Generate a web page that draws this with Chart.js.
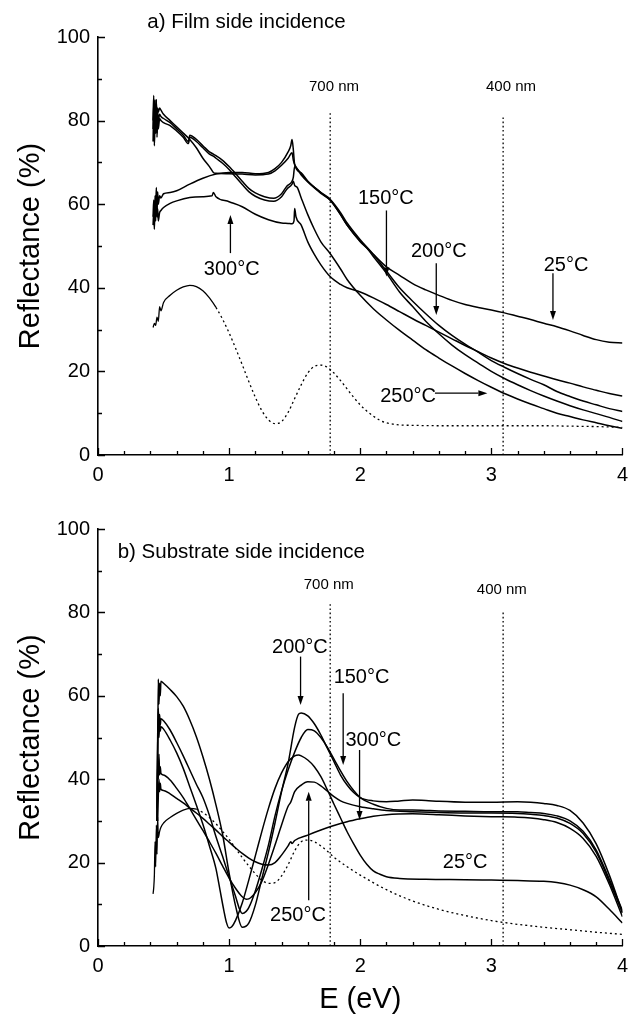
<!DOCTYPE html>
<html><head><meta charset="utf-8">
<script src="https://cdn.jsdelivr.net/npm/chart.js@4.4.1/dist/chart.umd.min.js"></script>
<style>
html,body{margin:0;padding:0;background:#fff;}
#wrap{position:relative;width:636px;height:1020px;overflow:hidden;background:#fff;}
canvas{position:absolute;left:0;}
#ca{top:0;} #cb{top:490px;}
</style></head><body>
<div id="wrap">
<canvas id="ca" width="636" height="490" style="width:636px;height:490px"></canvas>
<canvas id="cb" width="636" height="530" style="width:636px;height:530px"></canvas>
</div>
<script>
// ---------- tick labels ----------
const xTicks = [0, 1, 2, 3, 4];
const yTicks = [0, 20, 40, 60, 80, 100];

// ---------- wavelength markers (E in eV) ----------
const nmLabels = ['700 nm', '400 nm'];
const nmX = [1.771, 3.09];
const nmTopA = [82, 81];
const nmTopB = [82.5, 80.5];

// ---------- panel a) Film side incidence ----------
const a25X = [0.42,0.425,0.43,0.435,0.44,0.445,0.45,0.455,0.46,0.47,0.48,0.5,0.55,0.6,0.7,0.8,0.9,1.0,1.1,1.2,1.3,1.35,1.4,1.45,1.47,1.48,1.49,1.5,1.55,1.6,1.7,1.77,1.85,1.9,2.0,2.1,2.2,2.3,2.4,2.5,2.6,2.7,2.8,2.9,3.0,3.1,3.2,3.3,3.4,3.5,3.6,3.7,3.8,3.9,4.0];
const a25Y = [57,61,56,62,59,64,58,63,60,62,61.5,62.5,62.8,63.2,64.8,66.2,67.2,67.6,67.6,67.3,67.6,68.5,70,72.5,74,75.5,73,69.5,67.5,65.5,62.8,61,57.5,55,51.2,48,45,43,41,39.5,38.2,37,36,35.3,34.7,34,33.2,32.4,31.5,30.7,29.7,28.6,27.6,27,26.8];

const a150X = [0.42,0.425,0.43,0.435,0.44,0.445,0.45,0.455,0.46,0.47,0.48,0.5,0.55,0.6,0.65,0.69,0.7,0.75,0.8,0.85,0.88,0.9,0.95,1.0,1.05,1.1,1.15,1.2,1.27,1.34,1.4,1.44,1.48,1.49,1.5,1.55,1.6,1.7,1.77,1.85,1.9,2.0,2.05,2.1,2.2,2.3,2.4,2.5,2.6,2.7,2.8,2.9,3.0,3.1,3.2,3.3,3.4,3.5,3.6,3.7,3.8,3.9,4.0];
const a150Y = [78,84,76,83,79,85,77,82,80,81.5,81,80.5,79.5,78,76.5,75,76.5,75.5,74,72.5,72,71.6,70.5,69,67.3,65.5,63.8,62.7,61.8,61.4,62.5,64.3,65.5,66.5,69,67,65.3,62.6,61,57.5,55,51,49.5,47.5,43.5,39,35.5,32,29,26.3,24,22,20,18.3,16.8,15.4,14.1,12.9,11.8,10.8,9.9,9,8];

const a200X = [0.42,0.425,0.43,0.435,0.44,0.445,0.45,0.455,0.46,0.47,0.48,0.5,0.55,0.6,0.65,0.7,0.75,0.8,0.85,0.88,0.9,1.0,1.1,1.2,1.3,1.35,1.4,1.45,1.48,1.49,1.5,1.55,1.6,1.7,1.77,1.85,1.9,2.0,2.1,2.2,2.3,2.4,2.5,2.6,2.7,2.8,2.9,3.0,3.1,3.2,3.3,3.4,3.5,3.6,3.7,3.8,3.9,4.0];
const a200Y = [80,86,78,85,81,84,79,83,82,83,82.5,81.5,80,78.5,77,75.5,73.5,71,69,67.6,67.4,67.3,67.2,67,67.2,68,69.3,71,72.3,70.5,69.5,67.3,65.5,62.8,61.2,58,55.5,51.5,48,44,40,36.8,33.8,31,28.6,26.5,24.6,22.6,21,19.5,18.1,16.8,15.2,14,12.9,12,11.1,10.4];

const a250X = [0.42,0.425,0.43,0.435,0.44,0.445,0.45,0.455,0.46,0.47,0.48,0.5,0.55,0.6,0.65,0.69,0.7,0.75,0.8,0.85,0.88,0.9,0.95,1.0,1.05,1.1,1.15,1.2,1.27,1.34,1.4,1.44,1.48,1.49,1.5,1.52,1.55,1.6,1.65,1.7,1.77,1.85,1.9,2.0,2.1,2.2,2.3,2.4,2.5,2.6,2.7,2.8,2.9,3.0,3.1,3.2,3.3,3.4,3.5,3.6,3.7,3.8,3.9,4.0];
const a250Y = [75,82,74,80,77,85,76,81,78,80.5,80,79.5,78.8,77.5,76,74.5,76,75,73.5,72,71.5,71,69.8,68.3,66.5,64.7,63,61.9,61,60.7,61.8,63.6,64.8,65.5,64.5,64,61.5,57.5,54,51,48.2,44.5,42,38.2,35,32.3,29.8,27.5,25.2,23.2,21.3,19.5,17.8,16.2,14.7,13.4,12.2,11.1,10,9.2,8.4,7.7,7,6.4];

const a300X = [0.42,0.425,0.43,0.435,0.44,0.445,0.45,0.455,0.46,0.47,0.48,0.5,0.55,0.6,0.7,0.8,0.87,0.88,0.9,1.0,1.1,1.2,1.3,1.4,1.45,1.48,1.495,1.5,1.51,1.55,1.6,1.65,1.7,1.77,1.85,1.9,2.0,2.1,2.2,2.3,2.4,2.5,2.6,2.7,2.8,2.9,3.0,3.1,3.2,3.3,3.4,3.5,3.6,3.7,3.8,3.9,4.0];
const a300Y = [55,58,54,60,56,62,57,59,56,58,58.5,59.2,60.2,60.8,61.6,61.8,62,62.8,61.8,60.6,59.4,57.6,56.3,55.5,55.4,55.3,56,59,57,55,51,48,45.5,42.7,40.8,40,39,37.6,36,34.3,32.6,31,29.4,27.8,26.2,24.7,23.2,21.9,20.8,19.8,18.9,18,17.2,16.3,15.5,14.7,14.1];

const aRefX = [0.42,0.43,0.44,0.45,0.46,0.47,0.48,0.5,0.55,0.6,0.65,0.7,0.75,0.8,0.85,0.9,0.95,1.0,1.05,1.1,1.15,1.2,1.25,1.3,1.35,1.4,1.45,1.5,1.55,1.6,1.65,1.7,1.75,1.8,1.85,1.9,1.95,2.0,2.05,2.1,2.15,2.2,2.3,2.4,2.6,2.8,3.0,3.2,3.4,3.6,3.8,4.0];
const aRefY = [30.5,31.5,31,33,32,35.5,34.5,36.5,38.2,39.4,40.2,40.6,40.3,39.3,37.6,35.3,32.5,29.2,25.5,21.6,17.6,13.8,10.6,8.4,7.5,8,10.2,13.5,16.8,19.6,21.2,21.5,21,19.6,17.8,15.8,13.8,12,10.5,9.3,8.3,7.7,7.2,7.1,7,7,7,7,7,6.9,6.8,6.6];

// ---------- panel b) Substrate side incidence ----------
const b25X = [0.45,0.455,0.46,0.465,0.47,0.475,0.48,0.5,0.55,0.6,0.65,0.7,0.75,0.8,0.85,0.9,0.93,0.96,0.98,1.0,1.02,1.05,1.1,1.15,1.2,1.25,1.3,1.35,1.4,1.45,1.5,1.53,1.55,1.6,1.65,1.7,1.75,1.8,1.85,1.9,1.95,2.0,2.05,2.1,2.15,2.2,2.3,2.5,2.8,3.0,3.2,3.4,3.5,3.6,3.7,3.8,3.9,4.0];
const b25Y = [30,48,54.5,50,53.5,51.5,52.6,52,49.4,46.3,42.6,38.2,33.8,29.2,24,18.5,13.5,8.5,5.6,4.3,4.6,6.2,10.3,15.8,21.6,27.5,33,37.8,41.5,44.2,45.6,45.8,45.6,44.6,43,40.6,37.4,34,30.7,27.4,24.5,21.8,19.6,18,17.2,16.6,16.2,16,15.9,15.8,15.7,15.5,15.2,14.6,13.5,11.8,8.8,5.5];

const b150X = [0.45,0.455,0.46,0.465,0.47,0.475,0.48,0.5,0.55,0.6,0.65,0.7,0.75,0.8,0.85,0.9,0.95,1.0,1.05,1.08,1.1,1.13,1.15,1.2,1.25,1.3,1.35,1.4,1.45,1.5,1.55,1.6,1.65,1.7,1.75,1.8,1.85,1.9,1.95,2.0,2.1,2.2,2.3,2.4,2.5,2.6,2.8,3.0,3.2,3.3,3.4,3.5,3.6,3.7,3.8,3.9,4.0];
const b150Y = [33,50,57,52,55.5,53,54.5,54,51.8,48.8,45.6,42.2,38.8,35.6,31.3,26.2,21.5,16.6,11.8,8.8,7.8,8.3,9.2,13.2,18.4,24.2,31.2,37.2,42.2,46.5,50,51.9,51.6,50,47.6,44.8,42,39.4,37.3,35.6,34,33,32.6,32.6,32.5,32.4,32.3,32.2,32.2,32,31.8,31.2,30,27.5,23,16,8.5];

const b200X = [0.45,0.455,0.46,0.465,0.47,0.475,0.48,0.5,0.55,0.6,0.65,0.7,0.75,0.8,0.85,0.9,0.95,1.0,1.05,1.1,1.15,1.2,1.25,1.3,1.35,1.4,1.45,1.5,1.53,1.55,1.6,1.65,1.7,1.75,1.8,1.85,1.9,1.95,2.0,2.1,2.2,2.3,2.4,2.5,2.6,2.8,3.0,3.2,3.3,3.4,3.5,3.6,3.7,3.8,3.9,4.0];
const b200Y = [30,45,64,58,63,60,63.5,63,61.5,59.8,57.5,54.2,50.2,45.4,40,33.8,26.8,17.5,9.5,4.5,5.5,9.8,16.2,22.5,29.5,37,43.8,52.5,55.6,55.9,55.2,53.3,50.6,47.4,44.2,41,38.6,36.8,35.6,34.8,34.6,34.8,35,34.9,34.7,34.5,34.5,34.6,34.5,34.2,33.7,32.5,29.5,24.5,17,8];

const b250X = [0.45,0.455,0.46,0.465,0.47,0.475,0.48,0.5,0.55,0.6,0.65,0.7,0.75,0.8,0.85,0.9,0.95,1.0,1.05,1.1,1.13,1.15,1.2,1.25,1.3,1.35,1.4,1.45,1.47,1.5,1.55,1.6,1.65,1.7,1.75,1.8,1.85,1.9,2.0,2.1,2.2,2.4,2.6,2.8,3.0,3.2,3.3,3.4,3.5,3.6,3.7,3.8,3.9,4.0];
const b250Y = [30,44,40,46,41,43,41.4,41,39.8,37.8,35.6,33,30.3,27.7,25,22.2,19.2,16.3,13.8,11.8,11.2,11.3,12.8,15.5,19.6,24.2,29,33.5,34.5,37,38.6,39.4,39.3,38.4,37.1,35.8,34.8,34.2,33.4,32.9,32.5,32.2,32,31.9,31.9,31.8,31.6,31.3,30.7,29.4,27,22.5,15.5,8];

const b300X = [0.455,0.46,0.465,0.47,0.475,0.48,0.5,0.55,0.6,0.65,0.7,0.75,0.8,0.85,0.9,0.95,1.0,1.05,1.1,1.15,1.2,1.25,1.3,1.35,1.4,1.45,1.47,1.48,1.5,1.6,1.7,1.8,1.9,2.0,2.1,2.2,2.4,2.6,2.8,3.0,3.2,3.3,3.4,3.5,3.6,3.7,3.8,3.9,4.0];
const b300Y = [30,36,40,37,39,37.6,37.3,36.5,35.4,34.3,33.1,31.9,30.6,29.2,27.8,26.3,24.9,23.5,22.2,21.1,20.2,19.6,19.4,20,21.8,24,25,24.6,25.3,26.6,27.8,28.9,29.8,30.5,31.1,31.5,31.7,31.5,31.2,31,30.9,30.7,30.3,29.6,28.2,25.8,21.5,14.8,7];

const bRefX = [0.42,0.425,0.43,0.435,0.44,0.445,0.45,0.455,0.46,0.47,0.48,0.5,0.55,0.6,0.65,0.7,0.75,0.8,0.85,0.9,0.95,1.0,1.05,1.1,1.15,1.2,1.25,1.3,1.35,1.4,1.45,1.5,1.55,1.6,1.65,1.7,1.75,1.8,1.9,2.0,2.2,2.4,2.6,2.8,3.0,3.2,3.4,3.6,3.8,4.0];
const bRefY = [12.5,14,17,25,19,29,22,31,26,27.5,28.5,29.5,30.8,31.8,32.6,33,32.8,32,30.8,29.3,27.5,25.6,23.4,21.2,19.2,17.3,15.8,15,15.2,16.8,19.5,22.8,25,25.4,25,24,22.7,21.3,19,17,13.5,10.8,8.8,7.3,6.1,5.2,4.5,3.9,3.3,2.8];

// ---------- rendering ----------
const FONT = '"Liberation Sans", Arial, Helvetica, sans-serif';
const pts = (xs, ys) => xs.map((v, i) => ({x: v, y: ys[i]}));

function curve(label, xs, ys, dashFrom) {
  const ds = {
    label, data: pts(xs, ys), borderColor: '#000', borderWidth: 1.5,
    pointRadius: 0, fill: false, cubicInterpolationMode: 'monotone'
  };
  if (dashFrom !== undefined) {
    ds.borderWidth = 1.3;
    ds.segment = { borderDash: c => (c.p0.parsed.x >= dashFrom ? [2, 3] : undefined) };
  }
  return ds;
}
function vline(label, xv, top) {
  return { label, data: [{x: xv, y: 0}, {x: xv, y: top}], borderColor: '#000',
    borderWidth: 1.3, borderDash: [1.6, 2.6], pointRadius: 0, tension: 0, fill: false };
}

const decor = {
  id: 'decor',
  afterDatasetsDraw(chart, args, o) {
    const {ctx, chartArea: ca, scales: {x, y}} = chart;
    ctx.save();
    ctx.strokeStyle = '#000'; ctx.fillStyle = '#000';
    ctx.lineWidth = 1.3;
    ctx.beginPath();
    for (let i = 0; i <= 20; i++) {
      const px = Math.round(x.getPixelForValue(i * 0.2)) + 0.5;
      const len = i % 5 === 0 ? 7 : 4;
      ctx.moveTo(px, ca.bottom); ctx.lineTo(px, ca.bottom - len);
    }
    for (let j = 0; j <= 10; j++) {
      const py = Math.round(y.getPixelForValue(j * 10)) + 0.5;
      const len = j % 2 === 0 ? 7 : 4;
      ctx.moveTo(ca.left, py); ctx.lineTo(ca.left + len, py);
    }
    ctx.stroke();
    for (const a of o.arrows) {
      const x1 = x.getPixelForValue(a[0]), y1 = y.getPixelForValue(a[1]);
      const x2 = x.getPixelForValue(a[2]), y2 = y.getPixelForValue(a[3]);
      const ang = Math.atan2(y2 - y1, x2 - x1);
      const hl = 9, hw = 3;
      const bx = x2 - hl * Math.cos(ang), by = y2 - hl * Math.sin(ang);
      ctx.lineWidth = 1.3;
      ctx.beginPath(); ctx.moveTo(x1, y1); ctx.lineTo(bx, by); ctx.stroke();
      ctx.beginPath(); ctx.moveTo(x2, y2);
      ctx.lineTo(bx + hw * Math.sin(ang), by - hw * Math.cos(ang));
      ctx.lineTo(bx - hw * Math.sin(ang), by + hw * Math.cos(ang));
      ctx.closePath(); ctx.fill();
    }
    for (const t of o.texts) {
      ctx.font = t.size + 'px ' + FONT;
      ctx.textAlign = t.align || 'center';
      ctx.textBaseline = 'middle';
      ctx.fillText(t.text, x.getPixelForValue(t.x), y.getPixelForValue(t.y));
    }
    ctx.restore();
  }
};

function makeChart(id, datasets, annot, cfg) {
  return new Chart(document.getElementById(id), {
    type: 'line',
    data: { datasets },
    plugins: [decor],
    options: {
      responsive: false, animation: false, devicePixelRatio: 1,
      layout: { padding: { top: cfg.top, right: 6, left: 0, bottom: 0 } },
      plugins: { legend: { display: false }, tooltip: { enabled: false }, decor: annot },
      scales: {
        x: {
          type: 'linear', min: 0, max: 4,
          afterBuildTicks: s => { s.ticks = xTicks.map(v => ({ value: v })); },
          ticks: { font: { family: FONT, size: 20 }, color: '#000', padding: 8, maxRotation: 0, autoSkip: false },
          grid: { drawOnChartArea: false, drawTicks: false },
          border: { color: '#000', width: 1.6 },
          title: cfg.xTitle ? { display: true, text: cfg.xTitle, color: '#000',
            font: { family: FONT, size: 29 }, padding: { top: 0, bottom: 3 } } : { display: false },
          afterFit: s => { s.height = cfg.xh; }
        },
        y: {
          type: 'linear', min: 0, max: 100,
          afterBuildTicks: s => { s.ticks = yTicks.map(v => ({ value: v })); },
          ticks: { font: { family: FONT, size: 20 }, color: '#000', padding: 8 },
          grid: { drawOnChartArea: false, drawTicks: false },
          border: { color: '#000', width: 1.6 },
          title: { display: true, text: 'Reflectance (%)', color: '#000',
            font: { family: FONT, size: 29 }, padding: { top: 14, bottom: 0 } },
          afterFit: s => { s.width = 98; }
        }
      }
    }
  });
}

makeChart('ca', [
  curve('25°C', a25X, a25Y),
  curve('150°C', a150X, a150Y),
  curve('200°C', a200X, a200Y),
  curve('250°C', a250X, a250Y),
  curve('300°C', a300X, a300Y),
  curve('reference', aRefX, aRefY, 0.88),
  vline(nmLabels[0], nmX[0], nmTopA[0]),
  vline(nmLabels[1], nmX[1], nmTopA[1])
], {
  texts: [
    { text: 'a) Film side incidence', x: 0.376, y: 103.4, size: 20.5, align: 'left' },
    { text: nmLabels[0], x: 1.80, y: 88, size: 15 },
    { text: nmLabels[1], x: 3.15, y: 88, size: 15 },
    { text: '150°C', x: 2.195, y: 61.4, size: 20 },
    { text: '200°C', x: 2.60, y: 48.8, size: 20 },
    { text: '25°C', x: 3.57, y: 45.3, size: 20 },
    { text: '250°C', x: 2.365, y: 14.0, size: 20 },
    { text: '300°C', x: 1.02, y: 44.5, size: 20 }
  ],
  arrows: [
    [2.2, 58.5, 2.2, 42.7],
    [2.58, 45.9, 2.58, 33.5],
    [3.47, 43.5, 3.47, 32.3],
    [2.57, 14.8, 2.97, 14.8],
    [1.01, 48.3, 1.01, 57.4]
  ]
}, { top: 37, xh: 35 });

makeChart('cb', [
  curve('25°C', b25X, b25Y),
  curve('150°C', b150X, b150Y),
  curve('200°C', b200X, b200Y),
  curve('250°C', b250X, b250Y),
  curve('300°C', b300X, b300Y),
  curve('reference', bRefX, bRefY, 0.75),
  vline(nmLabels[0], nmX[0], nmTopB[0]),
  vline(nmLabels[1], nmX[1], nmTopB[1])
], {
  texts: [
    { text: 'b) Substrate side incidence', x: 0.15, y: 94.3, size: 20.5, align: 'left' },
    { text: nmLabels[0], x: 1.76, y: 86.5, size: 15 },
    { text: nmLabels[1], x: 3.08, y: 85.5, size: 15 },
    { text: '200°C', x: 1.54, y: 71.6, size: 20 },
    { text: '150°C', x: 2.01, y: 64.5, size: 20 },
    { text: '300°C', x: 2.1, y: 49.4, size: 20 },
    { text: '250°C', x: 1.525, y: 7.4, size: 20 },
    { text: '25°C', x: 2.8, y: 20, size: 20 }
  ],
  arrows: [
    [1.545, 69.4, 1.545, 57.8],
    [1.87, 60.6, 1.87, 43.4],
    [1.995, 47, 1.995, 30.2],
    [1.607, 11, 1.607, 37]
  ]
}, { top: 39, xh: 74, xTitle: 'E (eV)' });
</script>
</body></html>
